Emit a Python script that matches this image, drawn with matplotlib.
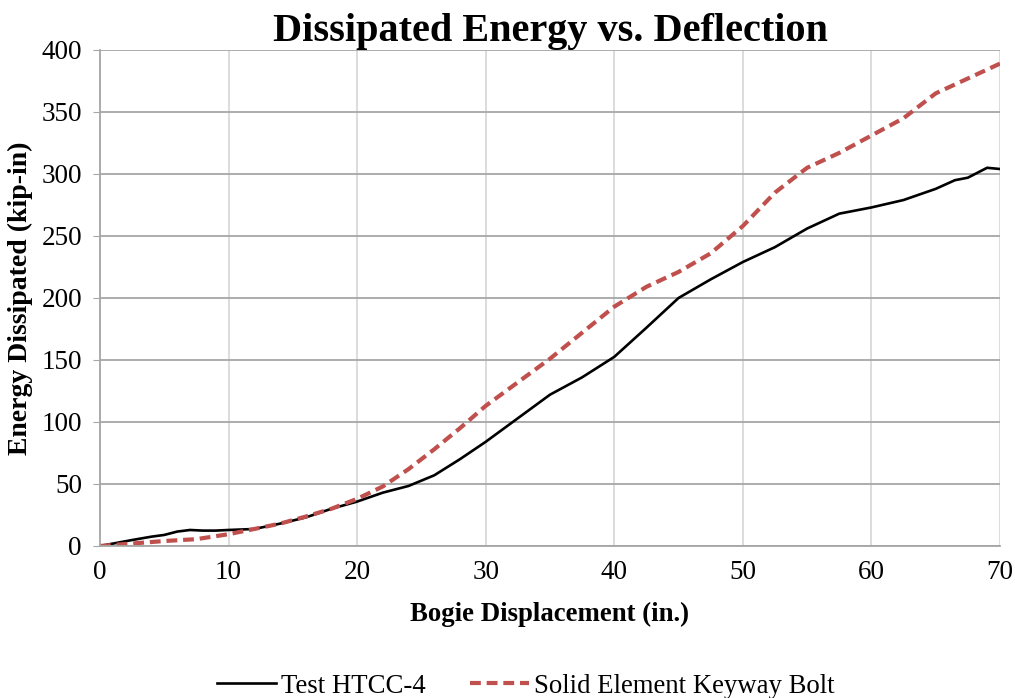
# energia disipada vs deflexion
import matplotlib.pyplot as plt

test_x = [0, 2.5, 4, 5, 6, 7, 8, 9, 10, 12, 14, 16, 18, 20, 22, 24, 26, 28, 30,
          32.5, 35, 37.5, 40, 42.5, 45, 47.5, 50, 52.5, 55, 57.5, 60, 62.5, 65,
          66.5, 67.5, 69, 70]
test_y = [0, 4.8, 7.5, 8.9, 11.6, 12.9, 12.4, 12.4, 12.9, 13.7, 18, 23, 30, 35.8,
          43, 48.4, 57, 70, 84, 103, 122, 136, 152.5, 176, 200, 215, 229, 241,
          256, 268, 273, 279, 288, 295, 297, 305, 304]

solid_x = [0, 2.5, 5, 7.5, 10, 12, 14, 16, 18, 20, 22, 24, 26, 28, 30, 32.5, 35,
           37.5, 40, 42.5, 45, 47.5, 50, 52.5, 55, 57.5, 60, 62.5, 65, 67.5, 70]
solid_y = [0, 2, 4, 5.5, 9.5, 13.7, 18, 23.7, 30, 38, 48, 62, 78, 95, 113, 132,
           151, 172, 193, 209, 221, 236, 258, 285, 305, 317, 331, 345, 365, 377, 389]

plt.rcParams['font.family'] = ['Liberation Serif', 'DejaVu Serif']

fig = plt.figure(figsize=(10.15, 6.98), dpi=100)
ax = fig.add_axes([0.0985, 0.2178, 0.8867, 0.7106])

ax.plot(test_x, test_y, color='black', lw=1.9, label='Test HTCC-4')
ax.plot(solid_x, solid_y, color='#c0504d', lw=3, dashes=(2.6, 1.4),
        label='Solid Element Keyway Bolt')

ax.set_xlim(0, 70)
ax.set_ylim(0, 400)
ax.set_xticks(range(0, 71, 10))
ax.set_yticks(range(0, 401, 50))

ax.grid(axis='y', color='#a6a6a6', lw=1.3)
ax.grid(axis='x', color='#d9d9d9', lw=1.3)
ax.set_axisbelow(True)
for s in ['top', 'right']:
    ax.spines[s].set_visible(False)
for s in ['left', 'bottom']:
    ax.spines[s].set_color('#a6a6a6')
    ax.spines[s].set_linewidth(1.3)
ax.tick_params(axis='y', length=5, color='#a6a6a6', labelsize=19.5, pad=8)
ax.tick_params(axis='x', length=0, labelsize=19.5, pad=10)

ax.set_xlabel('Bogie Displacement (in.)', fontsize=19.3, fontweight='bold', labelpad=12)
ax.set_ylabel('Energy Dissipated (kip-in)', fontsize=20, fontweight='bold', labelpad=6)
ax.set_title('Dissipated Energy vs. Deflection', fontsize=29, fontweight='bold', pad=6)

fig.legend(loc='center', bbox_to_anchor=(0.518, 0.017), ncol=2, frameon=False,
           fontsize=19.3, handlelength=2.2, columnspacing=1.65, handletextpad=0.2,
           borderpad=0)

fig.savefig('out.png')
